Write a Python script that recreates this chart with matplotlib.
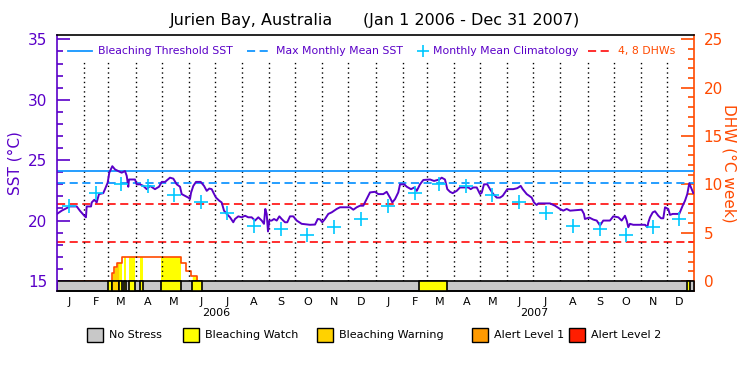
import numpy as np
import matplotlib
matplotlib.use('Agg')
import matplotlib.pyplot as plt
from matplotlib.patches import Rectangle
from matplotlib.lines import Line2D

# 日別SST（2006-01-01 からの経過日数, °C）
sst_day = [0, 5.4, 14.9, 22.6, 26.4, 31.3, 33.2, 34, 39, 39.8, 42.7, 45.5, 48.1, 53, 55, 58.1,
           59.9, 63.4, 66.5, 70.2, 74.1, 77.9, 79.9, 81.7, 82.5, 89.4, 91.3, 95.1, 98.9, 102.8,
           106.6, 112.3, 116.9, 120, 123.8, 129.5, 133.3, 137.2, 141, 142.9, 146.7, 150.5, 152.4,
           153.6, 156.2, 159.3, 164.7, 168.5, 171.6, 174.5, 177.3, 179.1, 182.2, 186, 188.7,
           191.4, 194.5, 198.3, 202, 204, 207.8, 211.7, 215.5, 219.2, 223.1, 226.9, 230.7, 234.6,
           237.2, 238.7, 240.3, 241.8, 243.3, 246, 248.7, 251.8, 254.8, 257.5, 261.3, 263.9, 267,
           270.8, 274.7, 280.4, 289.9, 295.7, 298.8, 301.4, 304, 307.1, 310.9, 314.8, 320.5,
           324.3, 335.8, 339.6, 343.5, 347.2, 351, 354.9, 358.7, 364.4, 368.2, 373.9, 377.8,
           381.6, 384.3, 387.4, 391.1, 393.1, 398, 400.8, 405.7, 409.5, 412.3, 416, 419.8,
           427.5, 432.1, 438.1, 440.9, 444.6, 447.3, 450.4, 453.5, 458.1, 461.8, 471.4, 474.1,
           477.1, 481, 484.8, 486.7, 489.3, 493.1, 496.2, 500, 503.9, 507.7, 510.8, 513.4, 516,
           522.9, 527.5, 531.4, 533.7, 538.3, 544, 546.6, 549.7, 551.6, 565, 570.7, 576.4,
           580.2, 584.1, 587.9, 601.3, 603.9, 605, 610, 614.6, 618.5, 622.3, 626, 633.7, 637.5,
           643.3, 647.1, 650.9, 652.9, 654.7, 656.6, 660.4, 673.9, 676.5, 677.7, 679.6, 682.7,
           685.3, 689.1, 692.2, 694.8, 696.8, 700.5, 702.5, 705.6, 713.1, 717, 719.7, 722.3,
           724.6, 727.3, 729.2]
sst_val = [20.55, 20.82, 21.17, 21.17, 20.8, 20.4, 20.27, 21.17, 21.17, 21.5, 21.72, 21.5, 22.19,
           22.27, 22.6, 23.14, 23.96, 24.5, 24.23, 24.1, 23.96, 24.1, 23.7, 22.8, 23.4, 23.4,
           23.0, 23.0, 22.87, 22.6, 22.87, 22.6, 22.8, 23.2, 23.2, 23.55, 23.47, 23.0, 22.8,
           22.19, 22.05, 21.9, 21.78, 22.3, 22.87, 23.2, 23.2, 22.87, 22.46, 22.65, 22.6, 22.33,
           21.9, 21.64, 21.5, 20.82, 20.55, 20.27, 19.86, 20.13, 20.35, 20.27, 20.4, 20.27,
           20.27, 20.0, 20.27, 20.0, 19.73, 20.96, 20.55, 19.1, 20.0, 20.0, 20.13, 20.0, 20.35,
           20.13, 19.86, 19.86, 20.35, 20.35, 20.0, 19.73, 19.65, 19.67, 20.13, 20.1, 19.86,
           20.13, 20.55, 20.68, 20.96, 21.1, 21.1, 20.9, 21.1, 21.23, 21.23, 21.78, 22.33,
           22.38, 22.19, 22.19, 22.38, 21.9, 21.5, 21.78, 22.33, 23.0, 23.0, 22.8, 22.6, 22.74,
           22.46, 23.0, 23.36, 23.4, 23.28, 23.4, 23.55, 23.4, 22.6, 22.38, 22.27, 22.46, 22.74,
           22.74, 22.6, 22.74, 22.74, 22.19, 22.3, 23.0, 23.0, 22.6, 22.19, 21.9, 21.9, 22.05,
           22.33, 22.6, 22.6, 22.68, 22.87, 22.6, 22.19, 21.9, 21.5, 21.29, 21.42, 21.42, 21.23,
           20.96, 20.82, 20.96, 20.82, 20.9, 20.55, 20.13, 20.25, 20.08, 20.0, 19.59, 20.0,
           20.0, 20.35, 20.27, 20.0, 20.4, 20.0, 19.45, 19.73, 19.65, 19.65, 19.45, 19.86, 20.27,
           20.68, 20.77, 20.4, 20.19, 20.19, 21.1, 20.96, 20.47, 20.55, 20.55, 21.23, 21.64,
           22.19, 23.09, 22.6, 22.27]

# 月平均気候値（1月〜12月）
clim_val = [21.2, 22.25, 23.06, 22.87, 22.1, 21.5, 20.63, 19.53, 19.31, 18.83, 19.45, 20.13]
mmm = 23.1
threshold = 24.1
dhw_levels = [4, 8]

# DHW（階段状）
dhw_day = [0, 62.7, 65.5, 68.5, 74.8, 142.1, 147.8, 153.2, 160.8, 730]
dhw_val = [0, 0.86, 1.42, 1.9, 2.46, 1.83, 1.07, 0.52, 0, 0]

# ストレスレベル区間 (開始日, 終了日, レベル)
status_start = [58, 63, 71, 77, 83, 95, 119, 155, 415, 722]
status_end = [63, 71, 74, 79, 89, 99, 142, 166, 447, 725]
status_level = [1, 2, 1, 1, 1, 1, 1, 1, 1, 1]
status_names = ['No Stress', 'Bleaching Watch', 'Bleaching Warning', 'Alert Level 1', 'Alert Level 2']
status_colors = ['#c8c8c8', '#ffff00', '#ffd200', '#ff9a00', '#ff1e00']

month_letters = list('JFMAMJJASOND') * 2
years = ['2006', '2007']

purple = '#5a00c8'
orange = '#ff4a00'
blue = '#1496ff'
cyan = '#00c8ff'
red = '#ff1e1e'

months = np.arange('2006-01', '2008-01', dtype='datetime64[M]')
month_start = (months.astype('datetime64[D]') - np.datetime64('2006-01-01')).astype(int)
total_days = 730
month_mid = month_start + 14
clim_all = clim_val * 2

sst_lo, sst_hi = 14.17, 35.36
fig = plt.figure(figsize=(7.5, 3.75), dpi=100)
ax = fig.add_axes([57 / 750, 1 - 291 / 375, 637 / 750, 256 / 375])
ax2 = ax.twinx()
ax.set_zorder(ax2.get_zorder() + 1)
ax.patch.set_visible(False)

ax.set_xlim(0, total_days)
ax.set_ylim(sst_lo, sst_hi)
ax2.set_ylim((sst_lo - 15) * 1.25, (sst_hi - 15) * 1.25)

# ストレスバー
ax.broken_barh([(0, total_days)], (sst_lo, 15 - sst_lo), facecolor=status_colors[0],
               edgecolor='k', lw=1.2, zorder=2)
for s, e, lv in zip(status_start, status_end, status_level):
    ax.broken_barh([(s, e - s)], (sst_lo, 15 - sst_lo), facecolor=status_colors[lv],
                   edgecolor='k', lw=1.2, zorder=3)

# DHW塗りつぶし
grid = np.arange(0, total_days + 0.01, 0.1)
idx = np.searchsorted(dhw_day, grid, side='right') - 1
dhw_grid = np.array(dhw_val)[np.clip(idx, 0, len(dhw_val) - 1)]
for s, e, lv in zip(status_start, status_end, status_level):
    m = (grid >= s) & (grid <= e)
    ax2.fill_between(grid, 0, dhw_grid, where=m, color=status_colors[lv], lw=0)
ax2.step(dhw_day[0:9], dhw_val[0:9], where='post', color=orange, lw=1.2)

for lv in dhw_levels:
    ax2.axhline(lv, color=red, lw=1.3, ls=(0, (4.5, 2.5)))

# 閾値線
ax.axhline(threshold, color=blue, lw=1.3)
ax.axhline(mmm, color=blue, lw=1.3, ls=(0, (4.5, 2.5)))

# 月境界の点線
ax.vlines(month_start[1:], 15, 33.1, colors='k', lw=1.0, linestyles=(0, (1, 2.4)), zorder=1)

# SST
ax.plot(sst_day, sst_val, color=purple, lw=1.4, zorder=5)
ax.plot(month_mid, clim_all, ls='none', marker='+', ms=9.5, mew=1.2, color=cyan, zorder=6)

# 軸の体裁
ax.set_yticks([15, 20, 25, 30, 35])
ax.set_yticks(np.arange(15, 36, 1), minor=True)
ax.tick_params(axis='y', which='major', direction='in', length=9.5, width=1.2, colors=purple,
               labelsize=11, pad=7)
ax.tick_params(axis='y', which='minor', direction='in', length=4.5, width=1.2, colors=purple)
ax.set_xticks(month_mid)
ax.set_xticklabels(month_letters)
ax.tick_params(axis='x', length=0, labelsize=8, pad=4)
ax2.set_yticks([0, 5, 10, 15, 20, 25])
ax2.set_yticks(np.arange(0, 26, 1), minor=True)
ax2.tick_params(axis='y', which='major', direction='in', length=9.5, width=1.2, colors=orange,
                labelsize=11, pad=7)
ax2.tick_params(axis='y', which='minor', direction='in', length=4.5, width=1.2, colors=orange)

ax.spines['right'].set_visible(False)
for sp in ['left', 'top', 'bottom']:
    ax2.spines[sp].set_visible(False)
ax.spines['left'].set_color(purple)
ax.spines['left'].set_linewidth(1.2)
ax2.spines['right'].set_color(orange)
ax2.spines['right'].set_linewidth(1.2)
ax.spines['top'].set_linewidth(1.2)
ax.spines['bottom'].set_linewidth(1.2)

ax.set_ylabel('SST (°C)', color=purple, fontsize=11, labelpad=4)
ax2.set_ylabel('DHW (°C week)', color=orange, fontsize=11, rotation=270, labelpad=10)

for i, yr in enumerate(years):
    ax.text(month_start[i * 12] + 182, -0.085, yr, transform=ax.get_xaxis_transform(),
            ha='center', va='center', fontsize=8)

fig.text(0.5, 1 - 20 / 375, 'Jurien Bay, Australia      (Jan 1 2006 - Dec 31 2007)',
         ha='center', va='center', fontsize=11.5)

# 上部凡例
ly = 1 - 51 / 375
fig.add_artist(Line2D([68 / 750, 92 / 750], [ly, ly], color=blue, lw=1.3))
fig.text(98 / 750, ly, 'Bleaching Threshold SST', color=purple, fontsize=7.8, va='center')
fig.add_artist(Line2D([247 / 750, 268 / 750], [ly, ly], color=blue, lw=1.3, ls=(0, (4.5, 2.5))))
fig.text(276 / 750, ly, 'Max Monthly Mean SST', color=purple, fontsize=7.8, va='center')
fig.add_artist(Line2D([423 / 750], [ly], color=cyan, marker='+', ms=8, mew=1.2))
fig.text(433 / 750, ly, 'Monthly Mean Climatology', color=purple, fontsize=7.8, va='center')
fig.add_artist(Line2D([588 / 750, 609 / 750], [ly, ly], color=red, lw=1.3, ls=(0, (4.5, 2.5))))
fig.text(618 / 750, ly, '4, 8 DHWs', color=orange, fontsize=7.8, va='center')

# 下部凡例
box_x = [87, 183, 317, 472, 569]
for bx, name, col in zip(box_x, status_names, status_colors):
    fig.add_artist(Rectangle((bx / 750, 1 - 342 / 375), 16 / 750, 14 / 375,
                             transform=fig.transFigure, facecolor=col, edgecolor='k', lw=1))
    fig.text((bx + 22) / 750, 1 - 335 / 375, name, fontsize=8, va='center')

plt.savefig('out.png', dpi=100)
plt.close()
